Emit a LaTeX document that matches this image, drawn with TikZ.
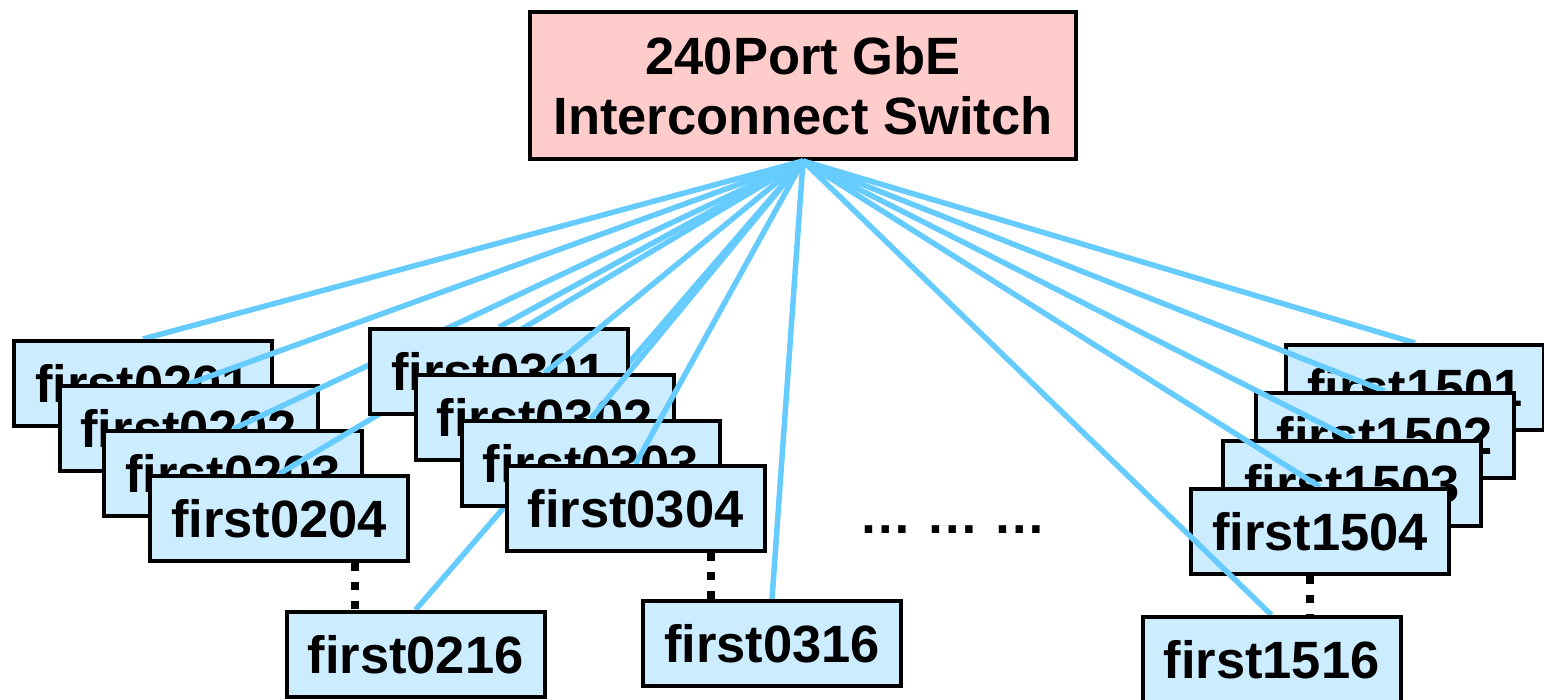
\documentclass[tikz,border=0pt]{standalone}
\usepackage{fontspec}
\setmainfont{Liberation Sans}
\definecolor{linkblue}{HTML}{66CCFF}
\definecolor{nodeblue}{HTML}{CCECFF}
\definecolor{switchpink}{HTML}{FFCCCC}
\begin{document}
\begin{tikzpicture}[x=1pt,y=-1pt,
  bigfont/.style={font=\fontsize{52.5}{60}\selectfont\bfseries},
  host/.style={draw=black, line width=4pt, fill=nodeblue, minimum width=258pt,
    minimum height=85pt, inner sep=0pt, anchor=north, bigfont},
  switchbox/.style={draw=black, line width=4pt, fill=switchpink, minimum width=546pt,
    minimum height=147pt, inner sep=0pt, align=center, bigfont},
  link/.style={draw=linkblue, line width=5.5pt},
  dotline/.style={draw=black, line width=7.5pt, dash pattern=on 8pt off 11pt},
]
\useasboundingbox (0,0) rectangle (1544,699);

\node[switchbox] (switch) at (803,85.5) {240Port GbE\\Interconnect Switch};

% top anchors of the host boxes
\coordinate (t0201) at (143,339);
\coordinate (t0202) at (188.5,384);
\coordinate (t0203) at (233,429);
\coordinate (t0204) at (279,474);
\coordinate (t0216) at (415.5,610);
\coordinate (t0301) at (499,327);
\coordinate (t0302) at (544.5,373);
\coordinate (t0303) at (590.5,419);
\coordinate (t0304) at (635.5,464);
\coordinate (t0316) at (772,599);
\coordinate (t1501) at (1415,343);
\coordinate (t1502) at (1384.5,391);
\coordinate (t1503) at (1352,439);
\coordinate (t1504) at (1320,487);
\coordinate (t1516) at (1271.5,615);

% group 02
\draw[link] (switch.south) -- (t0201);
\node[host] (n0201) at (t0201) {first0201};
\draw[link] (switch.south) -- (t0202);
\node[host] (n0202) at (t0202) {first0202};
\draw[link] (switch.south) -- (t0203);
\node[host] (n0203) at (t0203) {first0203};
\draw[link] (switch.south) -- (t0204);
\node[host] (n0204) at (t0204) {first0204};
\draw[link] (switch.south) -- (t0216);
\node[host] (n0216) at (t0216) {first0216};
\draw[dotline] ([xshift=76pt]n0204.south) -- ([xshift=-60.5pt]n0216.north);

% group 03
\draw[link] (switch.south) -- (t0301);
\node[host] (n0301) at (t0301) {first0301};
\draw[link] (switch.south) -- (t0302);
\node[host] (n0302) at (t0302) {first0302};
\draw[link] (switch.south) -- (t0303);
\node[host] (n0303) at (t0303) {first0303};
\draw[link] (switch.south) -- (t0304);
\node[host] (n0304) at (t0304) {first0304};
\draw[link] (switch.south) -- (t0316);
\node[host] (n0316) at (t0316) {first0316};
\draw[dotline] ([xshift=75.5pt]n0304.south) -- ([xshift=-61pt]n0316.north);

% group 15
\draw[link] (switch.south) -- (t1501);
\node[host] (n1501) at (t1501) {first1501};
\draw[link] (switch.south) -- (t1502);
\node[host] (n1502) at (t1502) {first1502};
\draw[link] (switch.south) -- (t1503);
\node[host] (n1503) at (t1503) {first1503};
\draw[link] (switch.south) -- (t1504);
\node[host] (n1504) at (t1504) {first1504};
\draw[link] (switch.south) -- (t1516);
\node[host] (n1516) at (t1516) {first1516};
\draw[dotline] ([xshift=-10pt]n1504.south) -- ([xshift=38.5pt]n1516.north);

\node[bigfont, anchor=base, inner sep=0pt] (ellipsis) at (953,533) {… … …};
\end{tikzpicture}
\end{document}
